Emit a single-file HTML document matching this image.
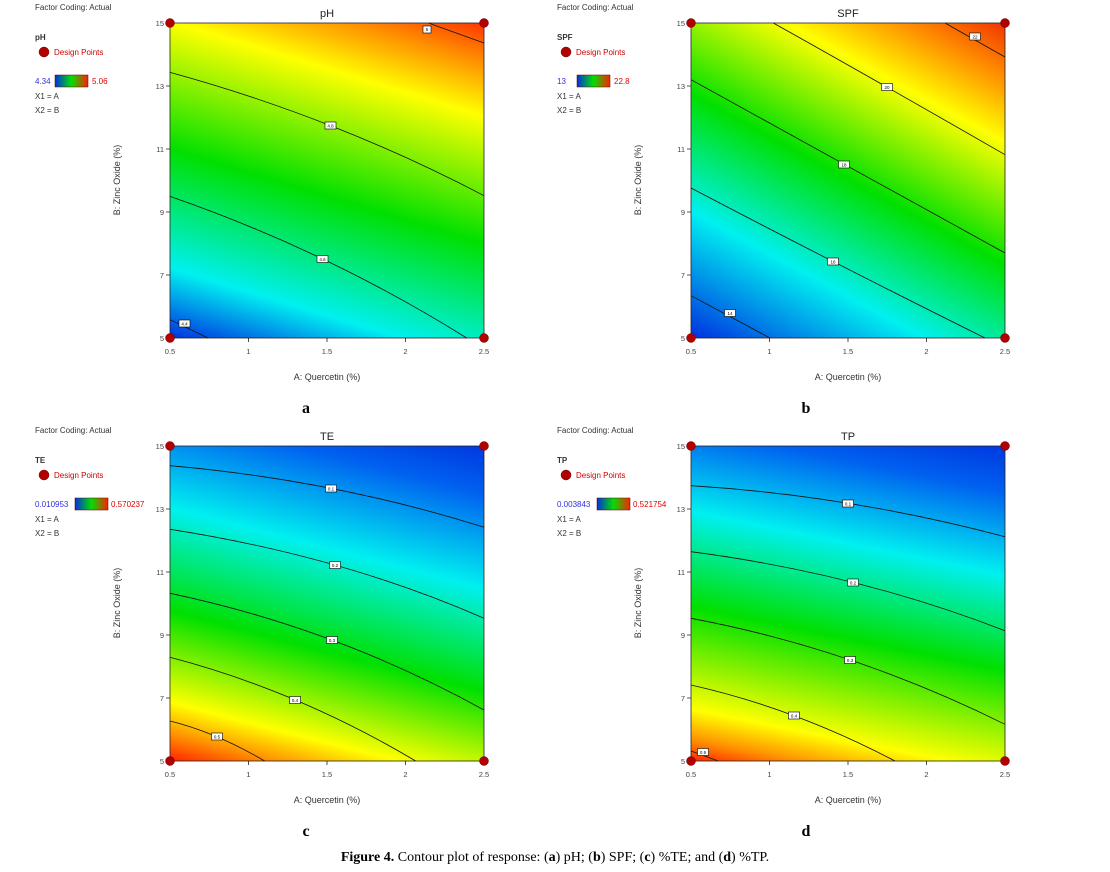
<!DOCTYPE html>
<html><head><meta charset="utf-8"><style>
body{margin:0;background:#fff;width:1110px;height:872px;overflow:hidden}
svg{display:block}
text{font-family:"Liberation Sans",sans-serif}
.t{font-size:8px;fill:#333}
.tl{font-size:7.5px;fill:#444}
.cl{font-size:4.5px;fill:#000;text-anchor:middle}
.lb{fill:#fff;stroke:#000;stroke-width:0.6}
.ct{fill:none;stroke:#111;stroke-width:0.8}
.ax{stroke:#222;stroke-width:0.8}
.dp{fill:#b00000;stroke:#700;stroke-width:0.5}
.cap{font-family:"Liberation Serif",serif;font-weight:bold;font-size:16px;fill:#000}
.fig{font-family:"Liberation Serif",serif;font-size:14px;fill:#000}
</style></head><body>
<svg width="1110" height="872" viewBox="0 0 1110 872">
<defs>
<linearGradient id="gph" gradientUnits="userSpaceOnUse" x1="0" y1="315" x2="114" y2="-62">
<stop offset="0" stop-color="#0030e0"/><stop offset="0.17" stop-color="#00f0f0"/><stop offset="0.46" stop-color="#00e000"/><stop offset="0.77" stop-color="#ffff00"/><stop offset="0.9" stop-color="#ff9000"/><stop offset="1" stop-color="#ff3000"/></linearGradient>
<linearGradient id="gspf" gradientUnits="userSpaceOnUse" x1="0" y1="315" x2="205" y2="-62">
<stop offset="0" stop-color="#0030e0"/><stop offset="0.26" stop-color="#00f0f0"/><stop offset="0.5" stop-color="#00e000"/><stop offset="0.75" stop-color="#ffff00"/><stop offset="0.88" stop-color="#ff9000"/><stop offset="1" stop-color="#f03000"/></linearGradient>
<linearGradient id="gte" gradientUnits="userSpaceOnUse" x1="314" y1="0" x2="218" y2="372">
<stop offset="0" stop-color="#0038e0"/><stop offset="0.12" stop-color="#0060f0"/><stop offset="0.36" stop-color="#00f0f0"/><stop offset="0.62" stop-color="#00e000"/><stop offset="0.85" stop-color="#ffff00"/><stop offset="0.93" stop-color="#ff9000"/><stop offset="1" stop-color="#ff2000"/></linearGradient>
<linearGradient id="gtp" gradientUnits="userSpaceOnUse" x1="314" y1="0" x2="240" y2="365">
<stop offset="0" stop-color="#0038e0"/><stop offset="0.12" stop-color="#0060f0"/><stop offset="0.34" stop-color="#00f0f0"/><stop offset="0.59" stop-color="#00e000"/><stop offset="0.86" stop-color="#ffff00"/><stop offset="0.94" stop-color="#ff9000"/><stop offset="1" stop-color="#ff2000"/></linearGradient>
<linearGradient id="gbar" x1="0" y1="0" x2="1" y2="0">
<stop offset="0" stop-color="#0030e0"/><stop offset="0.5" stop-color="#00e000"/><stop offset="1" stop-color="#ff2000"/></linearGradient>
</defs>

<g>
<text x="35" y="10" class="t">Factor Coding: Actual</text>
<text x="35" y="40" class="t" font-weight="bold" fill="#000">pH</text>
<circle cx="44" cy="52" r="5" class="dp"/><text x="54" y="55" class="t" style="fill:#d00000">Design Points</text>
<text x="35" y="84" class="t" style="fill:#3030e0">4.34</text>
<rect x="55" y="75" width="33" height="12" fill="url(#gbar)" stroke="#600" stroke-width="0.5"/>
<text x="92" y="84" class="t" style="fill:#e00000">5.06</text>
<text x="35" y="99" class="t">X1 = A</text><text x="35" y="113" class="t">X2 = B</text>
</g>
<g transform="translate(522,0)">
<text x="35" y="10" class="t">Factor Coding: Actual</text>
<text x="35" y="40" class="t" font-weight="bold" fill="#000">SPF</text>
<circle cx="44" cy="52" r="5" class="dp"/><text x="54" y="55" class="t" style="fill:#d00000">Design Points</text>
<text x="35" y="84" class="t" style="fill:#3030e0">13</text>
<rect x="55" y="75" width="33" height="12" fill="url(#gbar)" stroke="#600" stroke-width="0.5"/>
<text x="92" y="84" class="t" style="fill:#e00000">22.8</text>
<text x="35" y="99" class="t">X1 = A</text><text x="35" y="113" class="t">X2 = B</text>
</g>
<g transform="translate(0,423)">
<text x="35" y="10" class="t">Factor Coding: Actual</text>
<text x="35" y="40" class="t" font-weight="bold" fill="#000">TE</text>
<circle cx="44" cy="52" r="5" class="dp"/><text x="54" y="55" class="t" style="fill:#d00000">Design Points</text>
<text x="35" y="84" class="t" style="fill:#3030e0">0.010953</text>
<rect x="75" y="75" width="33" height="12" fill="url(#gbar)" stroke="#600" stroke-width="0.5"/>
<text x="111" y="84" class="t" style="fill:#e00000">0.570237</text>
<text x="35" y="99" class="t">X1 = A</text><text x="35" y="113" class="t">X2 = B</text>
</g>
<g transform="translate(522,423)">
<text x="35" y="10" class="t">Factor Coding: Actual</text>
<text x="35" y="40" class="t" font-weight="bold" fill="#000">TP</text>
<circle cx="44" cy="52" r="5" class="dp"/><text x="54" y="55" class="t" style="fill:#d00000">Design Points</text>
<text x="35" y="84" class="t" style="fill:#3030e0">0.003843</text>
<rect x="75" y="75" width="33" height="12" fill="url(#gbar)" stroke="#600" stroke-width="0.5"/>
<text x="111" y="84" class="t" style="fill:#e00000">0.521754</text>
<text x="35" y="99" class="t">X1 = A</text><text x="35" y="113" class="t">X2 = B</text>
</g>

<g transform="translate(170,23)">
<text x="157" y="-6" font-size="11" text-anchor="middle" fill="#222">pH</text>
<rect x="0" y="0" width="314" height="315" fill="url(#gph)"/>
<path class="ct" d="M258.4,0 L314,20"/>
<path class="ct" d="M0,49.4 Q164.4,94.4 314,172.7"/>
<path class="ct" d="M0,173.4 Q157,227.8 296.7,315"/>
<path class="ct" d="M0,296.7 L38,315"/>
<rect class="lb" x="253" y="3" width="8" height="7"/><text class="cl" x="257" y="8">5</text>
<rect class="lb" x="155" y="99" width="11" height="7"/><text class="cl" x="160.5" y="104.5">4.8</text>
<rect class="lb" x="147" y="232.5" width="11" height="7"/><text class="cl" x="152.5" y="238">4.6</text>
<rect class="lb" x="9" y="297" width="11" height="7"/><text class="cl" x="14.5" y="302.5">4.4</text>
<rect x="0" y="0" width="314" height="315" fill="none" class="ax"/>
<path class="ax" d="M0,0h-4M0,63h-4M0,126h-4M0,189h-4M0,252h-4M0,315h-4M0,315v4M78.5,315v4M157,315v4M235.5,315v4M314,315v4"/>
<g class="tl" text-anchor="end"><text x="-6" y="3">15</text><text x="-6" y="66">13</text><text x="-6" y="129">11</text><text x="-6" y="192">9</text><text x="-6" y="255">7</text><text x="-6" y="318">5</text></g>
<g class="tl" text-anchor="middle"><text x="0" y="331">0.5</text><text x="78.5" y="331">1</text><text x="157" y="331">1.5</text><text x="235.5" y="331">2</text><text x="314" y="331">2.5</text></g>
<text x="157" y="357" font-size="9" text-anchor="middle" fill="#333">A: Quercetin (%)</text>
<text transform="translate(-50,157) rotate(-90)" font-size="9" text-anchor="middle" fill="#333">B: Zinc Oxide (%)</text>
<circle cx="0" cy="0" r="4.5" class="dp"/><circle cx="314" cy="0" r="4.5" class="dp"/><circle cx="0" cy="315" r="4.5" class="dp"/><circle cx="314" cy="315" r="4.5" class="dp"/>
</g>

<g transform="translate(691,23)">
<text x="157" y="-6" font-size="11" text-anchor="middle" fill="#222">SPF</text>
<rect x="0" y="0" width="314" height="315" fill="url(#gspf)"/>
<path class="ct" d="M254,0 L314,34"/>
<path class="ct" d="M82.3,0 Q193.2,62.1 314,131.7"/>
<path class="ct" d="M0,56.7 Q149.6,140 314,230"/>
<path class="ct" d="M0,165 Q136.4,236.6 294,315"/>
<path class="ct" d="M0,272.7 L79,315"/>
<rect class="lb" x="278.5" y="10" width="11" height="7"/><text class="cl" x="284" y="15.5">22</text>
<rect class="lb" x="190.5" y="60.5" width="11" height="7"/><text class="cl" x="196" y="66">20</text>
<rect class="lb" x="147.5" y="138" width="11" height="7"/><text class="cl" x="153" y="143.5">18</text>
<rect class="lb" x="136.5" y="235" width="11" height="7"/><text class="cl" x="142" y="240.5">16</text>
<rect class="lb" x="33.5" y="286.5" width="11" height="7"/><text class="cl" x="39" y="292">14</text>
<rect x="0" y="0" width="314" height="315" fill="none" class="ax"/>
<path class="ax" d="M0,0h-4M0,63h-4M0,126h-4M0,189h-4M0,252h-4M0,315h-4M0,315v4M78.5,315v4M157,315v4M235.5,315v4M314,315v4"/>
<g class="tl" text-anchor="end"><text x="-6" y="3">15</text><text x="-6" y="66">13</text><text x="-6" y="129">11</text><text x="-6" y="192">9</text><text x="-6" y="255">7</text><text x="-6" y="318">5</text></g>
<g class="tl" text-anchor="middle"><text x="0" y="331">0.5</text><text x="78.5" y="331">1</text><text x="157" y="331">1.5</text><text x="235.5" y="331">2</text><text x="314" y="331">2.5</text></g>
<text x="157" y="357" font-size="9" text-anchor="middle" fill="#333">A: Quercetin (%)</text>
<text transform="translate(-50,157) rotate(-90)" font-size="9" text-anchor="middle" fill="#333">B: Zinc Oxide (%)</text>
<circle cx="0" cy="0" r="4.5" class="dp"/><circle cx="314" cy="0" r="4.5" class="dp"/><circle cx="0" cy="315" r="4.5" class="dp"/><circle cx="314" cy="315" r="4.5" class="dp"/>
</g>

<g transform="translate(170,446)">
<text x="157" y="-6" font-size="11" text-anchor="middle" fill="#222">TE</text>
<rect x="0" y="0" width="314" height="315" fill="url(#gte)"/>
<path class="ct" d="M0,19.7 Q164.4,34.1 314,81.3"/>
<path class="ct" d="M0,83.3 Q172.4,110.2 314,172.3"/>
<path class="ct" d="M0,147.3 Q166.4,182.3 314,264"/>
<path class="ct" d="M0,211.3 Q127.7,244.8 245.7,315"/>
<path class="ct" d="M0,275 Q46,286.4 94.7,315"/>
<rect class="lb" x="155.5" y="39" width="11" height="7"/><text class="cl" x="161" y="44.5">0.1</text>
<rect class="lb" x="159.5" y="115.5" width="11" height="7"/><text class="cl" x="165" y="121">0.2</text>
<rect class="lb" x="156.5" y="190.5" width="11" height="7"/><text class="cl" x="162" y="196">0.3</text>
<rect class="lb" x="119.5" y="250.5" width="11" height="7"/><text class="cl" x="125" y="256">0.4</text>
<rect class="lb" x="41.5" y="287" width="11" height="7"/><text class="cl" x="47" y="292.5">0.5</text>
<rect x="0" y="0" width="314" height="315" fill="none" class="ax"/>
<path class="ax" d="M0,0h-4M0,63h-4M0,126h-4M0,189h-4M0,252h-4M0,315h-4M0,315v4M78.5,315v4M157,315v4M235.5,315v4M314,315v4"/>
<g class="tl" text-anchor="end"><text x="-6" y="3">15</text><text x="-6" y="66">13</text><text x="-6" y="129">11</text><text x="-6" y="192">9</text><text x="-6" y="255">7</text><text x="-6" y="318">5</text></g>
<g class="tl" text-anchor="middle"><text x="0" y="331">0.5</text><text x="78.5" y="331">1</text><text x="157" y="331">1.5</text><text x="235.5" y="331">2</text><text x="314" y="331">2.5</text></g>
<text x="157" y="357" font-size="9" text-anchor="middle" fill="#333">A: Quercetin (%)</text>
<text transform="translate(-50,157) rotate(-90)" font-size="9" text-anchor="middle" fill="#333">B: Zinc Oxide (%)</text>
<circle cx="0" cy="0" r="4.5" class="dp"/><circle cx="314" cy="0" r="4.5" class="dp"/><circle cx="0" cy="315" r="4.5" class="dp"/><circle cx="314" cy="315" r="4.5" class="dp"/>
</g>

<g transform="translate(691,446)">
<text x="157" y="-6" font-size="11" text-anchor="middle" fill="#222">TP</text>
<rect x="0" y="0" width="314" height="315" fill="url(#gtp)"/>
<path class="ct" d="M0,39.7 Q157.6,49.4 314,90.7"/>
<path class="ct" d="M0,105.7 Q166.4,127.4 314,184.7"/>
<path class="ct" d="M0,172.3 Q161.6,202.7 314,278.3"/>
<path class="ct" d="M0,239 Q104,262.4 204,315"/>
<path class="ct" d="M0,305 L27.3,315"/>
<rect class="lb" x="151.5" y="54" width="11" height="7"/><text class="cl" x="157" y="59.5">0.1</text>
<rect class="lb" x="156.5" y="133" width="11" height="7"/><text class="cl" x="162" y="138.5">0.2</text>
<rect class="lb" x="153.5" y="210.5" width="11" height="7"/><text class="cl" x="159" y="216">0.3</text>
<rect class="lb" x="97.5" y="266" width="11" height="7"/><text class="cl" x="103" y="271.5">0.4</text>
<rect class="lb" x="6.5" y="302.5" width="11" height="7"/><text class="cl" x="12" y="308">0.5</text>
<rect x="0" y="0" width="314" height="315" fill="none" class="ax"/>
<path class="ax" d="M0,0h-4M0,63h-4M0,126h-4M0,189h-4M0,252h-4M0,315h-4M0,315v4M78.5,315v4M157,315v4M235.5,315v4M314,315v4"/>
<g class="tl" text-anchor="end"><text x="-6" y="3">15</text><text x="-6" y="66">13</text><text x="-6" y="129">11</text><text x="-6" y="192">9</text><text x="-6" y="255">7</text><text x="-6" y="318">5</text></g>
<g class="tl" text-anchor="middle"><text x="0" y="331">0.5</text><text x="78.5" y="331">1</text><text x="157" y="331">1.5</text><text x="235.5" y="331">2</text><text x="314" y="331">2.5</text></g>
<text x="157" y="357" font-size="9" text-anchor="middle" fill="#333">A: Quercetin (%)</text>
<text transform="translate(-50,157) rotate(-90)" font-size="9" text-anchor="middle" fill="#333">B: Zinc Oxide (%)</text>
<circle cx="0" cy="0" r="4.5" class="dp"/><circle cx="314" cy="0" r="4.5" class="dp"/><circle cx="0" cy="315" r="4.5" class="dp"/><circle cx="314" cy="315" r="4.5" class="dp"/>
</g>

<text x="306" y="413" class="cap" text-anchor="middle">a</text>
<text x="806" y="413" class="cap" text-anchor="middle">b</text>
<text x="306" y="836" class="cap" text-anchor="middle">c</text>
<text x="806" y="836" class="cap" text-anchor="middle">d</text>
<text x="555" y="861" text-anchor="middle" class="fig" style="font-family:'Liberation Serif',serif;font-size:14px"><tspan font-weight="bold">Figure 4.</tspan> Contour plot of response: (<tspan font-weight="bold">a</tspan>) pH; (<tspan font-weight="bold">b</tspan>) SPF; (<tspan font-weight="bold">c</tspan>) %TE; and (<tspan font-weight="bold">d</tspan>) %TP.</text>
</svg>
</body></html>
